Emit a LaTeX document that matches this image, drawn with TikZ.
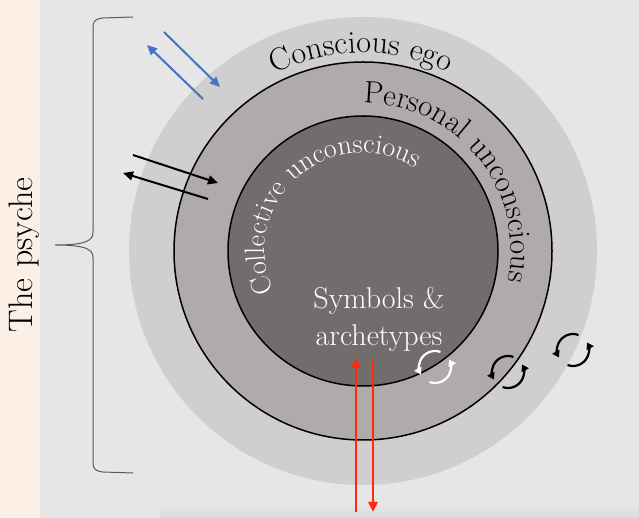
\documentclass[tikz,border=0pt]{standalone}
\usepackage{fontspec}
\usepackage{tikz}
\usetikzlibrary{arrows.meta,decorations.text,positioning}
\definecolor{bggray}{HTML}{E6E6E6}
\definecolor{peach}{HTML}{FCEFE6}
\definecolor{egocol}{HTML}{D0CECE}
\definecolor{persocol}{HTML}{AEABAA}
\definecolor{collcol}{HTML}{706D6C}
\definecolor{bracecol}{HTML}{595959}
\definecolor{flowblue}{HTML}{4472C4}
\definecolor{flowred}{HTML}{FF2A0A}
\tikzset{
  flow/.style={line width=2pt,-{Triangle[length=10pt,width=9pt]}},
  ringtext/.style={decorate,decoration={text along path,text align=center,text={#1}}},
  recycle/.pic={
    \draw[line width=2.2pt,-{Triangle[length=6.5pt,width=8pt]}] (70:16) arc[start angle=70,end angle=208,radius=16];
    \draw[line width=2.2pt,-{Triangle[length=6.5pt,width=8pt]}] (250:16) arc[start angle=250,end angle=388,radius=16];
  }
}
\begin{document}
\begin{tikzpicture}[x=1pt,y=1pt]
\useasboundingbox (0,0) rectangle (639,518);
\fill[bggray] (0,0) rectangle (639,518);
\fill[peach] (0,0) rectangle (40,518);
\shade[top color=bggray,bottom color=black!14] (160,0) rectangle (639,16);
\coordinate (C) at (363,267);
\fill[egocol] (C) circle (234);
\filldraw[fill=persocol,draw=black,line width=1.5pt] (C) circle (189);
\filldraw[fill=collcol,draw=black,line width=1.5pt] (C) circle (135);
\path[ringtext={|\fontsize{32}{36}\selectfont|Conscious ego}] ([shift={(130:198)}]C) arc[start angle=130,end angle=51,radius=198];
\path[ringtext={|\fontsize{31}{36}\selectfont|Personal unconscious}] ([shift={(100:148)}]C) arc[start angle=100,end angle=-22,radius=148];
\path[ringtext={|\fontsize{28}{32}\selectfont\color{white}|Collective unconscious}] ([shift={(212:98)}]C) arc[start angle=212,end angle=50,radius=98];
\node[white,align=center,font=\fontsize{30}{37}\selectfont] (symbols) at (379,199) {Symbols \&\\archetypes};
\node[rotate=90,font=\fontsize{34}{40}\selectfont] (psyche) at (24,263) {The psyche};
\draw[bracecol,line width=1pt] (133,501) -- (103,500) .. controls (95,499) and (93,497) .. (93,490) -- (93,286) .. controls (93,278) and (88,273) .. (55,273) .. controls (88,273) and (93,268) .. (93,260) -- (93,56) .. controls (93,49) and (95,47) .. (103,46) -- (133,45);
\coordinate (b1s) at (164,486);
\coordinate (b1e) at (220,431);
\coordinate (b2s) at (203,419);
\coordinate (b2e) at (147,473);
\draw[flow,flowblue] (b1s) -- (b1e);
\draw[flow,flowblue] (b2s) -- (b2e);
\coordinate (k1s) at (133,363);
\coordinate (k1e) at (218,335);
\coordinate (k2s) at (208,319);
\coordinate (k2e) at (123,345);
\draw[flow] (k1s) -- (k1e);
\draw[flow] (k2s) -- (k2e);
\coordinate (r1s) at (356,6);
\coordinate (r1e) at (356,160);
\coordinate (r2s) at (373,159);
\coordinate (r2e) at (373,6);
\draw[flow,flowred,line width=2.5pt] (r1s) -- (r1e);
\draw[flow,flowred,line width=2.5pt] (r2s) -- (r2e);
\pic[white] at (435,151) {recycle};
\pic at (508,146) {recycle};
\pic at (573,168) {recycle};
\end{tikzpicture}
\end{document}
